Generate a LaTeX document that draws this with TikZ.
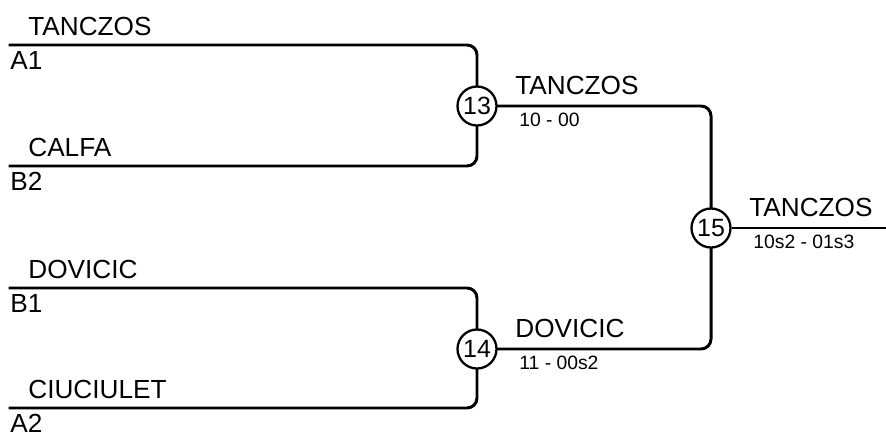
\documentclass[tikz,border=0pt]{standalone}
\usepackage{fontspec}
\setmainfont{Liberation Sans}
\usetikzlibrary{calc}

\begin{document}
\begin{tikzpicture}[
      x=0.02cm, y=-0.02cm, % one unit is one pixel of the sheet
      wire/.style={line width=1.7pt, line cap=rect, rounded corners=0.2cm}, % bracket lines
      match/.style={circle, draw, line width=1.3pt, minimum size=0.78cm, inner sep=0pt,
        font=\fontsize{14.2}{16}\selectfont}, % match number
      player/.style={anchor=base west, inner sep=0pt, font=\fontsize{14.9}{17}\selectfont},
      score/.style={anchor=base west, inner sep=0pt, font=\fontsize{11}{13}\selectfont},
    ]
    \useasboundingbox (0,0) rectangle (886,433);

    % Startplaetze
    \foreach \seed/\who/\yy in {A1/TANCZOS/45, B2/CALFA/166, B1/DOVICIC/288, A2/CIUCIULET/408}{
      \coordinate (\seed) at (10,\yy);
      \node[player] (n\seed) at (28,\yy-10) {\who};
      \node[player] (s\seed) at (10,\yy+24) {\seed};
    }

    % Spiele
    \node[match] (m13) at (477,106) {13};
    \node[match] (m14) at (477,349) {14};
    \node[match] (m15) at (711,228) {15};
    \coordinate (out) at (886,228);

    % Linien
    \draw[wire] (A1) -| (m13);
    \draw[wire] (B2) -| (m13);
    \draw[wire] (B1) -| (m14);
    \draw[wire] (A2) -| (m14);
    \draw[wire] (m13) -| (m15);
    \draw[wire] (m14) -| (m15);
    \draw[wire, line cap=butt] (m15) -- (out);

    % Sieger und Ergebnis
    \foreach \m/\who/\res in {m13/TANCZOS/10 - 00, m14/DOVICIC/11 - 00s2, m15/TANCZOS/10s2 - 01s3}{
      \node[player] (w\m) at ($(\m)+(38,-12)$) {\who};
      \node[score] (r\m) at ($(\m)+(42,20)$) {\res};
    }
  \end{tikzpicture}
\end{document}
